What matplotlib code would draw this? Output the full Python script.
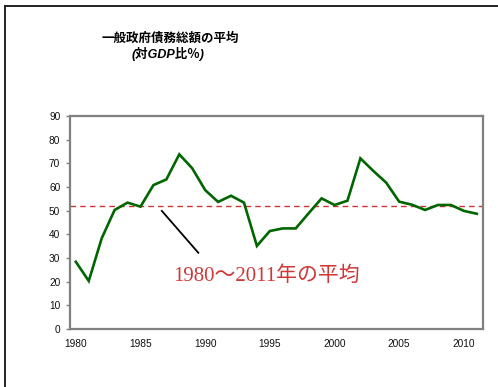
import matplotlib
matplotlib.use("Agg")
import matplotlib.pyplot as plt
import numpy as np
from matplotlib.lines import Line2D

years = list(range(1980, 2012))
debt_ratio = [28.4, 20.3, 38.3, 50.3, 53.4, 51.7, 60.8, 63.2, 73.8, 67.9,
              58.7, 53.7, 56.3, 53.4, 35.1, 41.4, 42.5, 42.5, 48.9, 55.2,
              52.4, 54.2, 72.1, 66.8, 61.8, 53.8, 52.5, 50.3, 52.4, 52.4,
              49.9, 48.7]
xticks = [1980, 1985, 1990, 1995, 2000, 2005, 2010]
yticks = list(range(0, 91, 10))
title1 = "一般政府債務総額の平均"
title2 = "(対GDP比％)"
note = "1980～2011年の平均"

plt.rcParams['font.family'] = ['Liberation Sans', 'Noto Sans CJK JP', 'DejaVu Sans']

fig = plt.figure(figsize=(4.98, 3.87), dpi=100)
ax = fig.add_axes([70/498, 1-329/387, (483-70)/498, (329-116)/387])

avg = float(np.mean(debt_ratio))
ax.plot(years, debt_ratio, color='#006600', lw=1.9, solid_joinstyle='miter', zorder=3)
ax.axhline(avg, color='#cc3333', lw=1.0, ls=(0, (4, 3)), zorder=2)
ax.plot([1986.65, 1989.47], [49.9, 32.2], color='black', lw=1.3, zorder=4)
ax.text(1987.5, 22.4, note, color='#d03838', fontsize=15,
        family=['Liberation Serif', 'Noto Sans CJK JP'], va='center', ha='left')

ax.set_xlim(1979.55, 2011.48)
ax.set_ylim(0, 90)
ax.set_xticks(xticks)
ax.set_yticks(yticks)
ax.tick_params(axis='x', length=0, pad=7, labelsize=7.3, colors='#111111')
ax.tick_params(axis='y', length=3, width=1, color='#808080', pad=4, labelsize=7.3, labelcolor='#111111')
for s in ax.spines.values():
    s.set_color('#808080')
    s.set_linewidth(1.6)

fig.text(0.342, 0.900, title1, fontsize=9, fontweight='bold', style='italic',
         ha='center', va='center', family=['Noto Sans CJK JP'])
fig.text(0.338, 0.860, title2, fontsize=9, fontweight='bold', style='italic',
         ha='center', va='center', family=['Liberation Sans', 'Noto Sans CJK JP'])

# outer frame (top and left)
fig.add_artist(Line2D([4.5/498, 4.5/498], [0, 1-6/387], transform=fig.transFigure, color='#222222', lw=1.4))
fig.add_artist(Line2D([4.5/498, 1], [1-6/387, 1-6/387], transform=fig.transFigure, color='#222222', lw=1.4))

fig.savefig("out.png", dpi=100)
